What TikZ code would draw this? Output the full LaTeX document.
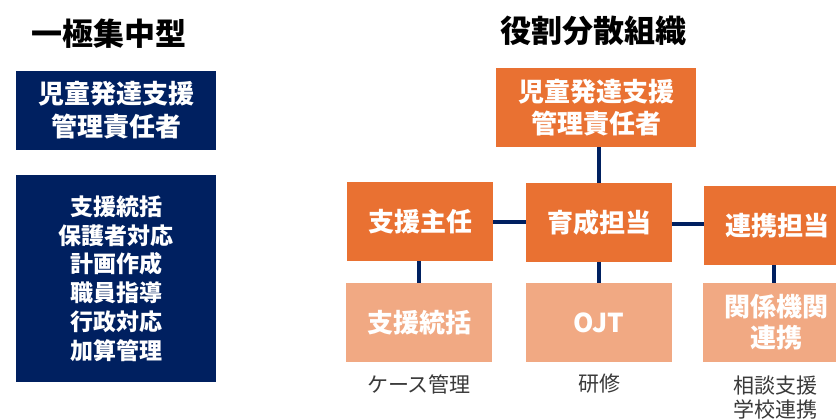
\documentclass[tikz,border=0pt]{standalone}
\usepackage{fontspec}
\setmainfont{Noto Sans CJK JP}
\usetikzlibrary{calc}
\definecolor{navy}{HTML}{002060}
\definecolor{orng}{HTML}{E97132}
\definecolor{lorng}{HTML}{F1A983}
\definecolor{capgray}{HTML}{3A3A3A}
\tikzset{
  title/.style={font=\fontsize{31}{36}\selectfont\bfseries, text=black, inner sep=0pt},
  navybox/.style={fill=navy, text=white, minimum width=200pt, align=center, inner sep=0pt, font=\bfseries},
  mainbox/.style={fill=orng, text=white, minimum width=146pt, minimum height=79pt, align=center, inner sep=0pt, font=\fontsize{26}{32}\selectfont\bfseries},
  subbox/.style={fill=lorng, text=white, minimum width=146pt, minimum height=79pt, align=center, inner sep=0pt, font=\fontsize{26}{31}\selectfont\bfseries},
  caption/.style={text=capgray, align=center, inner sep=0pt, font=\fontsize{21}{24}\selectfont},
  link/.style={draw=navy, line width=4pt}
}
\begin{document}
\begin{tikzpicture}[x=1pt,y=-1pt]
\useasboundingbox (0,0) rectangle (836,420);
% left
\node[title] (t1) at (109,34) {一極集中型};
\node[navybox, minimum height=79pt, font=\fontsize{26}{33}\selectfont\bfseries] (l1) at (116,110.5) {児童発達支援\\管理責任者};
\node[navybox, minimum height=207pt, font=\fontsize{23}{28.8}\selectfont\bfseries] (l2) at (116,278.5) {支援統括\\保護者対応\\計画作成\\職員指導\\行政対応\\加算管理};
% right
\node[title] (t2) at (593,31) {役割分散組織};
\node[mainbox, minimum width=200pt] (top) at (596,107.5) {児童発達支援\\管理責任者};
\node[mainbox] (s1) at (420,221.5) {支援主任};
\node[mainbox] (mid) at (599,222.5) {育成担当};
\node[mainbox] (r) at (777,225.5) {連携担当};
\node[subbox] (b1) at (419,322.5) {支援統括};
\node[subbox] (b2) at (599,322.5) {OJT};
\node[subbox] (b3) at (776,322.5) {関係機関\\連携};
\node[caption] (c1) at (419,384) {ケース管理};
\node[caption] (c2) at (599,384) {研修};
\node[caption] (c3) at (775,398) {相談支援\\学校連携};
% connectors
\draw[link] (mid.north) -- (mid.north |- top.south);
\draw[link] ([yshift=-0.5pt]s1.east) -- ([yshift=-0.5pt]s1.east -| mid.west);
\draw[link] ([yshift=-1.5pt]mid.east) -- ([yshift=-1.5pt]mid.east -| r.west);
\draw[link] (b1.north) -- (b1.north |- s1.south);
\draw[link] (b2.north) -- (b2.north |- mid.south);
\draw[link] ([xshift=-2pt]b3.north) -- ([xshift=-2pt]b3.north |- r.south);
\end{tikzpicture}
\end{document}
